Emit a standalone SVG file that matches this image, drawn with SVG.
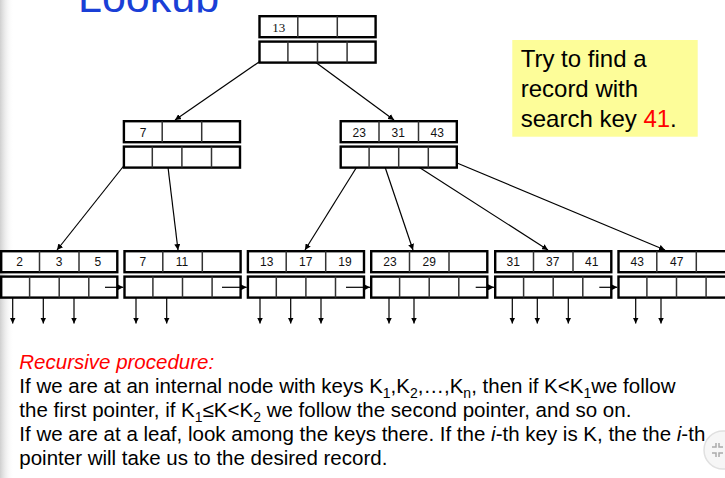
<svg xmlns="http://www.w3.org/2000/svg" xmlns:xlink="http://www.w3.org/1999/xlink" width="725" height="478" viewBox="0 0 725 478">
<style>
.kr,.pr{fill:#fff;stroke:#000;stroke-width:2.4}
.dv{stroke:#333;stroke-width:1.5}
.k{font-family:"Liberation Sans",Arial,sans-serif;font-size:12px;text-anchor:middle;fill:#111}
.ks{font-family:"Liberation Serif","Times New Roman",serif;font-size:13px;text-anchor:middle;fill:#111}
.ln{stroke:#000;stroke-width:1.2;fill:none;marker-end:url(#ah)}
.body{font-family:"Liberation Sans",Arial,sans-serif;font-size:20.5px;fill:#000}
.red{fill:#ff0000;font-style:italic}
.note{font-family:"Liberation Sans",Arial,sans-serif;font-size:24px;fill:#000}
.sub{font-size:14px}
</style>
<defs>
<marker id="ah" markerUnits="userSpaceOnUse" markerWidth="7" markerHeight="6" refX="6" refY="3" orient="auto">
<path d="M0,0 L6,3 L0,6 z" fill="#000"/>
</marker>
<linearGradient id="shade" x1="0" y1="0" x2="1" y2="0">
<stop offset="0" stop-color="#cfcfcf"/>
<stop offset="1" stop-color="#fff" stop-opacity="0"/>
</linearGradient>
<clipPath id="titleClip"><rect x="0" y="0" width="725" height="12.5"/></clipPath>
<g id="frame">
<rect class="kr" x="1.2" y="1.2" width="116.1" height="21"/>
<rect class="pr" x="1.2" y="26.6" width="116.1" height="21"/>
<line class="dv" x1="39.5" y1="1.2" x2="39.5" y2="22.2"/>
<line class="dv" x1="79" y1="1.2" x2="79" y2="22.2"/>
<line class="dv" x1="29.6" y1="26.6" x2="29.6" y2="47.6"/>
<line class="dv" x1="59.2" y1="26.6" x2="59.2" y2="47.6"/>
<line class="dv" x1="88.8" y1="26.6" x2="88.8" y2="47.6"/>
</g>
</defs>
<rect width="725" height="478" fill="#fff"/>
<rect x="0" y="0" width="14" height="478" fill="url(#shade)"/>
<text x="78" y="12" clip-path="url(#titleClip)" font-family="Liberation Sans,Arial,sans-serif" font-size="43" fill="#1a3fd6">Lookup</text>

<g id="connectors">
<line class="ln" x1="272" y1="53" x2="175" y2="120"/>
<line class="ln" x1="303" y1="53" x2="394" y2="120"/>
<line class="ln" x1="130" y1="158" x2="57" y2="250"/>
<line class="ln" x1="167" y1="159" x2="178" y2="250"/>
<line class="ln" x1="358" y1="165" x2="305" y2="250"/>
<line class="ln" x1="384" y1="164" x2="413" y2="250"/>
<line class="ln" x1="414" y1="164" x2="548" y2="250"/>
<line class="ln" x1="445" y1="158" x2="665" y2="250"/>
<line class="ln" x1="12.7" y1="287.5" x2="12.7" y2="323.5"/>
<line class="ln" x1="43.3" y1="287.5" x2="43.3" y2="323.5"/>
<line class="ln" x1="74" y1="287.5" x2="74" y2="323.5"/>
<line class="ln" x1="136" y1="287.5" x2="136" y2="323.5"/>
<line class="ln" x1="166.7" y1="287.5" x2="166.7" y2="323.5"/>
<line class="ln" x1="260" y1="287.5" x2="260" y2="323.5"/>
<line class="ln" x1="290.7" y1="287.5" x2="290.7" y2="323.5"/>
<line class="ln" x1="321" y1="287.5" x2="321" y2="323.5"/>
<line class="ln" x1="389" y1="287.5" x2="389" y2="323.5"/>
<line class="ln" x1="414" y1="287.5" x2="414" y2="323.5"/>
<line class="ln" x1="512.3" y1="287.5" x2="512.3" y2="323.5"/>
<line class="ln" x1="537.3" y1="287.5" x2="537.3" y2="323.5"/>
<line class="ln" x1="568.3" y1="287.5" x2="568.3" y2="323.5"/>
<line class="ln" x1="635.7" y1="287.5" x2="635.7" y2="323.5"/>
<line class="ln" x1="661" y1="287.5" x2="661" y2="323.5"/>
</g>

<g id="root" transform="translate(258.3,15)">
<use xlink:href="#frame"/>
<text class="ks" x="20.5" y="17">13</text>
</g>
<g id="int1" transform="translate(122.7,120)">
<use xlink:href="#frame"/>
<text class="k" x="20.3" y="16.7">7</text>
</g>
<g id="int2" transform="translate(339.5,120)">
<use xlink:href="#frame"/>
<text class="k" x="19.8" y="16.7">23</text>
<text class="k" x="58.8" y="16.7">31</text>
<text class="k" x="97.8" y="16.7">43</text>
</g>
<g id="leaf1" transform="translate(0,250)">
<use xlink:href="#frame"/>
<text class="k" x="19.5" y="15.9">2</text>
<text class="k" x="59" y="15.9">3</text>
<text class="k" x="97.8" y="15.9">5</text>
</g>
<g id="leaf2" transform="translate(123.3,250)">
<use xlink:href="#frame"/>
<text class="k" x="19.5" y="15.9">7</text>
<text class="k" x="58.6" y="15.9">11</text>
</g>
<g id="leaf3" transform="translate(246.7,250)">
<use xlink:href="#frame"/>
<text class="k" x="20" y="15.9">13</text>
<text class="k" x="59" y="15.9">17</text>
<text class="k" x="98.3" y="15.9">19</text>
</g>
<g id="leaf4" transform="translate(370,250)">
<use xlink:href="#frame"/>
<text class="k" x="20" y="15.9">23</text>
<text class="k" x="59.3" y="15.9">29</text>
</g>
<g id="leaf5" transform="translate(494,250)">
<use xlink:href="#frame"/>
<text class="k" x="19.3" y="15.9">31</text>
<text class="k" x="58.7" y="15.9">37</text>
<text class="k" x="97.7" y="15.9">41</text>
</g>
<g id="leaf6" transform="translate(617.3,250)">
<use xlink:href="#frame"/>
<text class="k" x="20" y="15.9">43</text>
<text class="k" x="59.4" y="15.9">47</text>
</g>

<g id="next-pointers">
<line class="ln" x1="105" y1="287.3" x2="123.3" y2="287.3"/>
<line class="ln" x1="222" y1="287.3" x2="246.7" y2="287.3"/>
<line class="ln" x1="346" y1="287.3" x2="370" y2="287.3"/>
<line class="ln" x1="475.7" y1="287.3" x2="494" y2="287.3"/>
<line class="ln" x1="599.3" y1="287.3" x2="617.3" y2="287.3"/>
</g>

<g id="note">
<rect x="512.3" y="40" width="185.4" height="96.7" fill="#fdfd99"/>
<text class="note" x="520.7" y="66.7">Try to find a</text>
<text class="note" x="520.7" y="96.7">record with</text>
<text class="note" x="520.7" y="126.7">search key <tspan style="fill:#ff0000">41</tspan>.</text>
</g>

<g id="text">
<text class="body red" x="19.3" y="369">Recursive procedure:</text>
<text class="body" x="19.3" y="393">If we are at an internal node with keys K<tspan class="sub" dy="5">1</tspan><tspan dy="-5">,K</tspan><tspan class="sub" dy="5">2</tspan><tspan dy="-5">,…,K</tspan><tspan class="sub" dy="5">n</tspan><tspan dy="-5">, then if K&lt;K</tspan><tspan class="sub" dy="5">1</tspan><tspan dy="-5">we follow</tspan></text>
<text class="body" x="19.3" y="417">the first pointer, if K<tspan class="sub" dy="5">1</tspan><tspan dy="-5">≤K&lt;K</tspan><tspan class="sub" dy="5">2</tspan><tspan dy="-5"> we follow the second pointer, and so on.</tspan></text>
<text class="body" x="19.3" y="441">If we are at a leaf, look among the keys there. If the <tspan font-style="italic">i</tspan>-th key is K, the the <tspan font-style="italic">i</tspan>-th</text>
<text class="body" x="19.3" y="465">pointer will take us to the desired record.</text>
</g>

<g id="corner-button">
<circle cx="723" cy="450" r="19" fill="#f6f6f6" stroke="#e0e0e0" stroke-width="1.5"/>
<path d="M716,443 v4 h-4 M719,443 v4 h4 M716,457 v-4 h-4 M719,457 v-4 h4" stroke="#aaa" stroke-width="1.5" fill="none"/>
</g>
</svg>
